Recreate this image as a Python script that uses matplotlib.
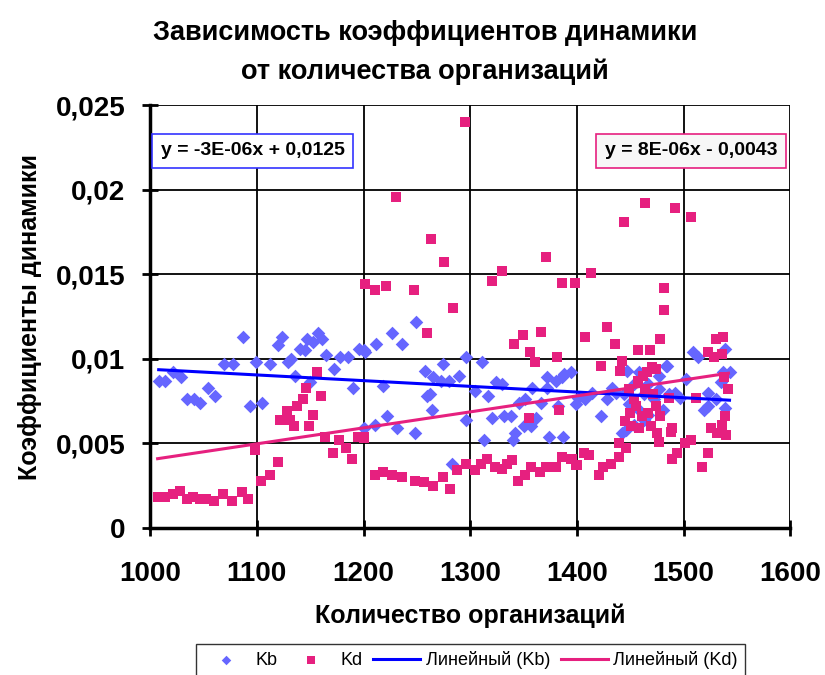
import numpy as np
import matplotlib
matplotlib.use("Agg")
import matplotlib.pyplot as plt
from matplotlib.ticker import FuncFormatter

plt.rcParams['font.family'] = ['Liberation Sans', 'DejaVu Sans']

# Kb (ромбы)
kb_x = [1008, 1014, 1021, 1029, 1035, 1041, 1047, 1054, 1061, 1069, 1078, 1087,
        1094, 1099, 1105, 1112, 1120, 1124, 1129, 1132, 1136, 1140, 1145, 1147,
        1150, 1153, 1157, 1161, 1165, 1172, 1178, 1185, 1190, 1196, 1201, 1200,
        1212, 1227, 1236, 1249, 1218, 1222, 1211, 1200, 1231, 1248, 1258, 1265,
        1274, 1273, 1280, 1289, 1259, 1264, 1262, 1296, 1296, 1283, 1304, 1311,
        1317, 1324, 1330, 1320, 1332, 1338, 1313, 1340, 1342, 1346, 1351, 1358,
        1350, 1357, 1362, 1366, 1372, 1372, 1380, 1386, 1394, 1382, 1374, 1387,
        1399, 1388, 1423, 1433, 1414, 1401, 1408, 1428, 1437, 1442, 1446, 1447,
        1444, 1449, 1453, 1458, 1463, 1467, 1472, 1463, 1453, 1467, 1477, 1481,
        1486, 1458, 1477, 1483, 1484, 1509, 1513, 1502, 1519, 1523, 1523, 1530,
        1537, 1543, 1539, 1539, 1535, 1492, 1497]
kb_y = [0.0087, 0.0087, 0.0092, 0.0089, 0.0076, 0.0076, 0.0074, 0.0083, 0.0078, 0.0097, 0.0097, 0.0113,
        0.0072, 0.0098, 0.0074, 0.0097, 0.0108, 0.0113, 0.0098, 0.0100, 0.0090, 0.0106, 0.0105, 0.0112,
        0.0086, 0.0110, 0.0115, 0.0112, 0.0102, 0.0094, 0.0101, 0.0101, 0.0083, 0.0106, 0.0104, 0.0105,
        0.0109, 0.0115, 0.0109, 0.0122, 0.0084, 0.0066, 0.0061, 0.0059, 0.0059, 0.0056, 0.0093, 0.0089,
        0.0097, 0.0087, 0.0087, 0.0090, 0.0078, 0.0070, 0.0079, 0.0101, 0.0064, 0.0038, 0.0081, 0.0098,
        0.0078, 0.0086, 0.0085, 0.0065, 0.0066, 0.0066, 0.0052, 0.0052, 0.0056, 0.0074, 0.0076, 0.0083,
        0.0060, 0.0060, 0.0065, 0.0074, 0.0089, 0.0083, 0.0087, 0.0089, 0.0092, 0.0072, 0.0054, 0.0054,
        0.0073, 0.0091, 0.0066, 0.0083, 0.0080, 0.0077, 0.0076, 0.0076, 0.0080, 0.0056, 0.0058, 0.0093,
        0.0079, 0.0073, 0.0085, 0.0070, 0.0079, 0.0085, 0.0076, 0.0064, 0.0061, 0.0067, 0.0082, 0.0070,
        0.0079, 0.0092, 0.0090, 0.0096, 0.0096, 0.0104, 0.0101, 0.0088, 0.0070, 0.0072, 0.0080, 0.0076,
        0.0092, 0.0092, 0.0106, 0.0071, 0.0086, 0.0080, 0.0077]

# Kd (квадраты)
kd_x = [1007, 1014, 1021, 1028, 1035, 1040, 1047, 1052, 1060, 1068, 1077, 1086,
        1092, 1098, 1104, 1112, 1120, 1122, 1128, 1131, 1135, 1138, 1143, 1146,
        1149, 1153, 1156, 1160, 1164, 1171, 1177, 1184, 1189, 1195, 1200,
        1295, 1230, 1263, 1275, 1201, 1211, 1221, 1247, 1284, 1320, 1330, 1371,
        1386, 1398, 1259, 1341, 1349, 1366, 1356, 1361, 1381, 1355, 1200,
        1211, 1218, 1227, 1236, 1248, 1257, 1265, 1274, 1281, 1288, 1296, 1304,
        1310, 1316, 1323, 1330, 1334, 1339, 1345, 1351, 1357, 1365, 1371, 1380,
        1386, 1394, 1399,
        1464, 1444, 1492, 1507, 1413, 1482, 1482, 1408, 1428, 1436, 1478, 1457,
        1468, 1442, 1423, 1440, 1470, 1466, 1474, 1530, 1537, 1523, 1528, 1536,
        1538, 1542, 1539, 1536, 1526, 1531, 1540, 1523, 1517, 1507, 1501, 1494,
        1489, 1488, 1489, 1512, 1449, 1464, 1455, 1461, 1451, 1458, 1469, 1475,
        1477, 1467, 1474, 1478, 1486, 1450, 1453, 1439, 1446, 1439, 1432, 1424,
        1421, 1411, 1407, 1400, 1395, 1383, 1457, 1471, 1445, 1462]
kd_y = [0.0018, 0.0018, 0.0020, 0.0022, 0.0017, 0.0018, 0.0017, 0.0017, 0.0016, 0.0020, 0.0016, 0.0021,
        0.0017, 0.0046, 0.0028, 0.0031, 0.0039, 0.0064, 0.0069, 0.0064, 0.0060, 0.0072, 0.0076, 0.0083,
        0.0060, 0.0067, 0.0092, 0.0078, 0.0054, 0.0044, 0.0052, 0.0047, 0.0041, 0.0054, 0.0054,
        0.0240, 0.0196, 0.0171, 0.0157, 0.0144, 0.0141, 0.0143, 0.0141, 0.0130, 0.0146, 0.0152, 0.0160,
        0.0145, 0.0145, 0.0115, 0.0109, 0.0114, 0.0116, 0.0104, 0.0098, 0.0101, 0.0065, 0.0053,
        0.0031, 0.0033, 0.0031, 0.0030, 0.0028, 0.0027, 0.0025, 0.0030, 0.0023, 0.0034, 0.0038, 0.0034,
        0.0038, 0.0041, 0.0036, 0.0035, 0.0038, 0.0040, 0.0028, 0.0031, 0.0036, 0.0033, 0.0036, 0.0036,
        0.0042, 0.0041, 0.0037,
        0.0192, 0.0181, 0.0189, 0.0184, 0.0151, 0.0142, 0.0129, 0.0113, 0.0119, 0.0109, 0.0112, 0.0105,
        0.0105, 0.0099, 0.0096, 0.0093, 0.0095, 0.0092, 0.0094, 0.0112, 0.0113, 0.0104, 0.0101, 0.0103,
        0.0089, 0.0082, 0.0066, 0.0061, 0.0059, 0.0056, 0.0055, 0.0044, 0.0036, 0.0052, 0.0050, 0.0044,
        0.0041, 0.0057, 0.0059, 0.0077, 0.0082, 0.0082, 0.0072, 0.0066, 0.0060, 0.0059, 0.0060, 0.0056,
        0.0051, 0.0068, 0.0072, 0.0066, 0.0077, 0.0068, 0.0076, 0.0050, 0.0047, 0.0042, 0.0038, 0.0036,
        0.0031, 0.0043, 0.0044, 0.0037, 0.0041, 0.0070, 0.0087, 0.0079, 0.0063, 0.0090]

eq_kb = "y = -3E-06x + 0,0125"
eq_kd = "y = 8E-06x - 0,0043"

blue_pt = '#6666ff'
pink = '#e6207f'

fig = plt.figure(figsize=(8.25, 6.75), dpi=100)
ax = fig.add_axes([0.182, 0.218, 0.776, 0.626])

ax.scatter(kb_x, kb_y, marker='D', s=48, color=blue_pt, linewidths=0, label='Kb', zorder=3)
ax.scatter(kd_x, kd_y, marker='s', s=55, color=pink, linewidths=0, label='Kd', zorder=4)

# линейные тренды, как в Excel
kx = np.array(kb_x)
dx = np.array(kd_x)
pb = np.polyfit(kx, kb_y, 1)
pd_ = np.polyfit(dx, kd_y, 1)
xb = np.array([kx.min(), kx.max()])
xd = np.array([dx.min(), dx.max()])
ax.plot(xb, np.polyval(pb, xb), color='#0000ff', lw=2.2, label='Линейный (Kb)', zorder=5)
ax.plot(xd, np.polyval(pd_, xd), color=pink, lw=2.2, label='Линейный (Kd)', zorder=5)

ax.set_xlim(1000, 1600)
ax.set_ylim(0, 0.025)
ax.set_xticks(np.arange(1000, 1601, 100))
ax.set_yticks(np.arange(0, 0.0251, 0.005))
ax.yaxis.set_major_formatter(FuncFormatter(lambda v, p: ('%g' % round(v, 4)).replace('.', ',')))
ax.grid(True, color='black', lw=1.3)
ax.set_axisbelow(True)
for s in ['top', 'right']:
    ax.spines[s].set_visible(False)
for s in ['left', 'bottom']:
    ax.spines[s].set_linewidth(2.5)
ax.tick_params(direction='inout', length=12, width=2, labelsize=20)
ax.tick_params(axis='x', pad=18)
ax.tick_params(axis='y', pad=12)
for lab in ax.get_xticklabels() + ax.get_yticklabels():
    lab.set_fontweight('bold')

ax.set_xlabel('Количество организаций', fontsize=18, fontweight='bold', labelpad=12)
ax.set_ylabel('Коэффициенты динамики', fontsize=18, fontweight='bold', labelpad=10)
fig.suptitle('Зависимость коэффициентов динамики\nот количества организаций',
             x=0.515, y=0.97, fontsize=19.5, fontweight='bold', linespacing=1.6)

ax.text(1010, 0.0223, eq_kb, fontsize=14, fontweight='bold', va='center', zorder=6,
        bbox=dict(boxstyle='square,pad=0.45', fc='white', ec='#3333ff', lw=1.2))
ax.text(1588, 0.0223, eq_kd, fontsize=14, fontweight='bold', va='center', ha='right', zorder=6,
        bbox=dict(boxstyle='square,pad=0.45', fc='#f7f7f7', ec=pink, lw=1.2))

leg = fig.legend(loc='lower center', bbox_to_anchor=(0.57, -0.015), ncol=4, fontsize=13,
                 frameon=True, fancybox=False, edgecolor='black', handlelength=2.6,
                 columnspacing=0.6, handletextpad=0.3, markerscale=0.7, borderpad=0.4)
leg.get_frame().set_linewidth(1)

fig.savefig('out.png', dpi=100)
